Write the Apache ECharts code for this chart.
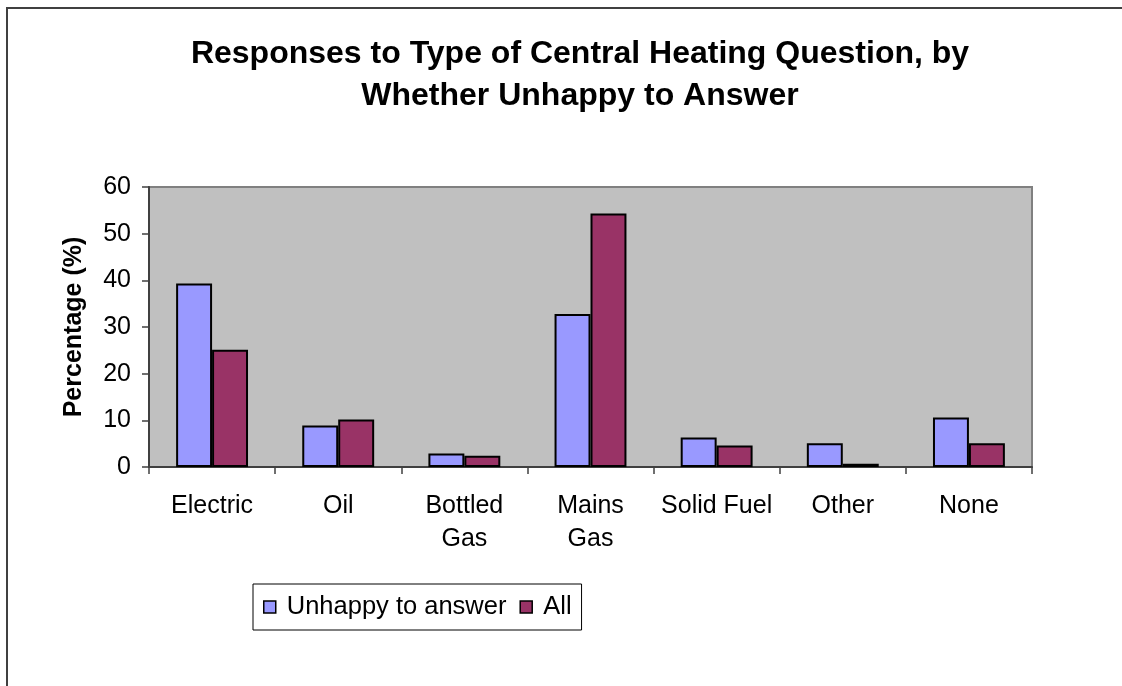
<!DOCTYPE html>
<html>
<head>
<meta charset="utf-8">
<script src="https://cdn.jsdelivr.net/npm/echarts@6/dist/echarts.min.js"></script>
<style>
  html, body { margin: 0; padding: 0; background: #ffffff; }
  #chart { width: 1122px; height: 686px; }
</style>
</head>
<body>
<div id="chart"></div>
<script>
// Heating types asked about in the survey
const categories = ['Electric', 'Oil', 'Bottled\nGas', 'Mains\nGas', 'Solid Fuel', 'Other', 'None'];
// Percentage of respondents per heating type
const unhappyToAnswer = [39.3, 8.9, 2.9, 32.8, 6.3, 5.1, 10.6];
const allRespondents = [25.1, 10.2, 2.4, 54.3, 4.6, 0.7, 5.1];
const seriesNames = ['Unhappy to answer', 'All'];
const yTicks = { min: 0, max: 60, interval: 10 };

const FONT = 'Liberation Sans, Arial, sans-serif';
const chart = echarts.init(document.getElementById('chart'), null, { renderer: 'canvas' });

const barStyle = (color) => ({ color: color, borderColor: '#000000', borderWidth: 2 });

chart.setOption({
  backgroundColor: '#ffffff',
  animation: false,
  graphic: [{
    type: 'rect',
    shape: { x: 7, y: 8, width: 1300, height: 900 },
    style: { fill: 'none', stroke: '#404040', lineWidth: 2 },
    silent: true
  }],
  title: {
    text: 'Responses to Type of Central Heating Question, by\nWhether Unhappy to Answer',
    left: 580,
    top: 33,
    padding: 0,
    textAlign: 'center',
    textStyle: { fontFamily: FONT, fontSize: 32, fontWeight: 'bold', color: '#000000', lineHeight: 42 }
  },
  legend: {
    data: seriesNames,
    left: 253,
    top: 584,
    orient: 'horizontal',
    icon: 'rect',
    itemWidth: 12,
    itemHeight: 12,
    itemGap: 13,
    padding: [10, 10, 10, 10],
    borderColor: '#000000',
    borderWidth: 1,
    backgroundColor: '#ffffff',
    textStyle: { fontFamily: FONT, fontSize: 25.5, color: '#000000', padding: [0, 0, 0, 6] },
    itemStyle: { borderColor: '#000000', borderWidth: 1.5 }
  },
  grid: {
    left: 149, top: 187, right: 90, bottom: 219,
    show: true,
    backgroundColor: '#c0c0c0',
    borderColor: '#808080',
    borderWidth: 2
  },
  xAxis: {
    type: 'category',
    data: categories,
    axisLine: { show: true, lineStyle: { color: '#404040', width: 2 } },
    axisTick: { show: true, length: 7, alignWithLabel: false, lineStyle: { color: '#404040', width: 1.5 } },
    axisLabel: { fontFamily: FONT, fontSize: 25, color: '#000000', lineHeight: 33, margin: 23, interval: 0 },
    splitLine: { show: false }
  },
  yAxis: {
    type: 'value',
    min: yTicks.min,
    max: yTicks.max,
    interval: yTicks.interval,
    name: 'Percentage (%)',
    nameLocation: 'middle',
    nameGap: 62,
    nameTextStyle: { fontFamily: FONT, fontSize: 25, fontWeight: 'bold', color: '#000000' },
    axisLine: { show: true, lineStyle: { color: '#404040', width: 2 } },
    axisTick: { show: true, length: 7, lineStyle: { color: '#404040', width: 1.5 } },
    axisLabel: { fontFamily: FONT, fontSize: 25, color: '#000000', margin: 18 },
    splitLine: { show: false }
  },
  series: [
    {
      name: seriesNames[0],
      type: 'bar',
      data: unhappyToAnswer,
      itemStyle: barStyle('#9999ff'),
      barGap: '0%',
      barCategoryGap: '43%'
    },
    {
      name: seriesNames[1],
      type: 'bar',
      data: allRespondents,
      itemStyle: barStyle('#993366'),
      barGap: '0%',
      barCategoryGap: '43%'
    }
  ]
});
</script>
</body>
</html>
